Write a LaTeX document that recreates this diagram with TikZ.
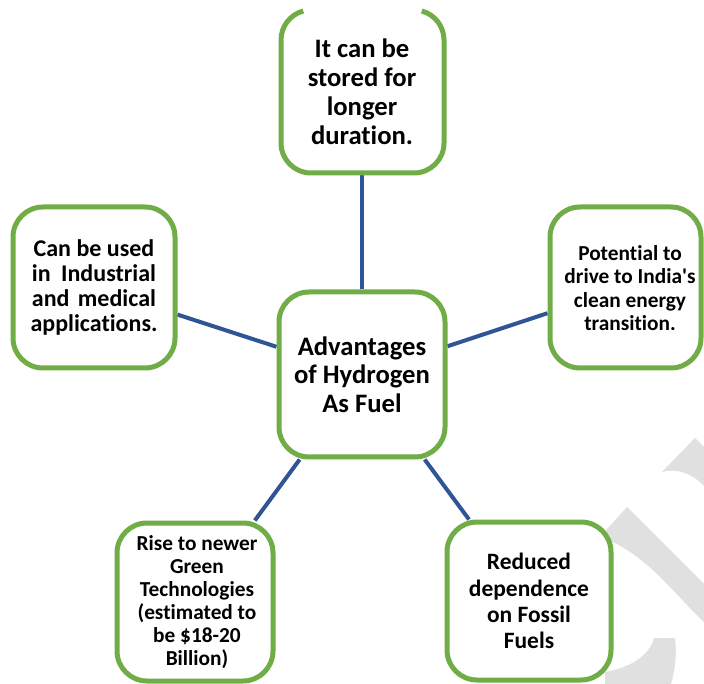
\documentclass[tikz,border=0pt]{standalone}
\usepackage{fontspec}
\setmainfont{Carlito}[Ligatures={NoCommon}]
\usetikzlibrary{backgrounds}
\definecolor{boxgreen}{HTML}{70AD47}
\definecolor{linkblue}{HTML}{2F5597}
\definecolor{markgrey}{HTML}{E0E0E0}
\tikzset{
  box/.style={draw=boxgreen, line width=3.75pt, rounded corners=22.5pt,
    fill=white, align=center, inner sep=0pt, text=black},
  boxline/.style={draw=boxgreen, line width=3.75pt},
  link/.style={draw=linkblue, line width=3pt},
  hubfont/.style={font=\fontsize{20}{21.4}\selectfont\bfseries},
  topfont/.style={font=\fontsize{20}{21.75}\selectfont\bfseries},
  leftfont/.style={font=\fontsize{18}{18.75}\selectfont\bfseries},
  rightfont/.style={font=\fontsize{16}{17.5}\selectfont\bfseries},
  lowleftfont/.style={font=\fontsize{16}{17.25}\selectfont\bfseries},
  lowrightfont/.style={font=\fontsize{17.6}{19.7}\selectfont\bfseries},
}
\begin{document}
\begin{tikzpicture}[x=0.75pt, y=-0.75pt]
\useasboundingbox (0,0) rectangle (704,684);

% faint grey strokes in the lower right corner
\fill[markgrey] (662,472) -- (695,438) -- (704,447) -- (704,486)
  .. controls (692,473) and (676,468) .. (662,472) -- cycle;
\fill[markgrey] (600,537) -- (627,507) -- (704,584) -- (704,622)
  .. controls (672,592) and (645,552) .. (600,537) -- cycle;
\fill[markgrey] (654,638) -- (675,638) .. controls (677,655) and (675,670) .. (671,684)
  -- (605,684) -- (605,672) .. controls (630,668) and (650,655) .. (654,638) -- cycle;

% central topic
\node[box, hubfont, minimum width=166*0.75pt, minimum height=165*0.75pt] (hub) at (362,374.5)
  {Advantages\\of Hydrogen\\As Fuel};

% top box, its upper edge left open
\node[box, topfont, draw=none, minimum width=163*0.75pt, minimum height=163*0.75pt] (top) at (362,91.5)
  {It can be\\stored for\\longer\\duration.};
\draw[boxline] (311,40) ++(255:30) arc[start angle=255, end angle=180, radius=30]
  -- (281,143) arc[start angle=180, end angle=90, radius=30]
  -- (414,173) arc[start angle=90, end angle=0, radius=30]
  -- (444,40) arc[start angle=0, end angle=-75, radius=30];

\node[box, leftfont, minimum width=162*0.75pt, minimum height=161*0.75pt] (left) at (94,287.5)
  {Can be used\\\makebox[93pt][s]{in Industrial}\\
   \makebox[93pt][s]{and medical}\\applications.};

\node[box, minimum width=151*0.75pt, minimum height=161*0.75pt] (right) at (625.5,287.5) {};
\node[rightfont, align=center, inner sep=0pt] (righttext) at (630,288)
  {Potential to\\drive to India\textquotesingle s\\clean energy\\transition.};

\node[box, minimum width=156*0.75pt, minimum height=158*0.75pt] (lowleft) at (195,602) {};
\node[lowleftfont, align=center, inner sep=0pt] (lowlefttext) at (197,602.5)
  {Rise to newer\\Green\\Technologies\\(estimated to\\be \$18-20\\Billion)};

\node[box, lowrightfont, minimum width=164*0.75pt, minimum height=158*0.75pt] (lowright) at (529,601)
  {Reduced\\dependence\\on Fossil\\Fuels};

\begin{scope}[on background layer]
  \fill[white] (0,0) rectangle (704,684);
  \draw[link] (hub) -- (top);
  \draw[link] (hub) -- (left);
  \draw[link] (hub) -- (right);
  \draw[link] (hub) -- (lowleft);
  \draw[link] (hub) -- (lowright);
\end{scope}
\end{tikzpicture}
\end{document}
